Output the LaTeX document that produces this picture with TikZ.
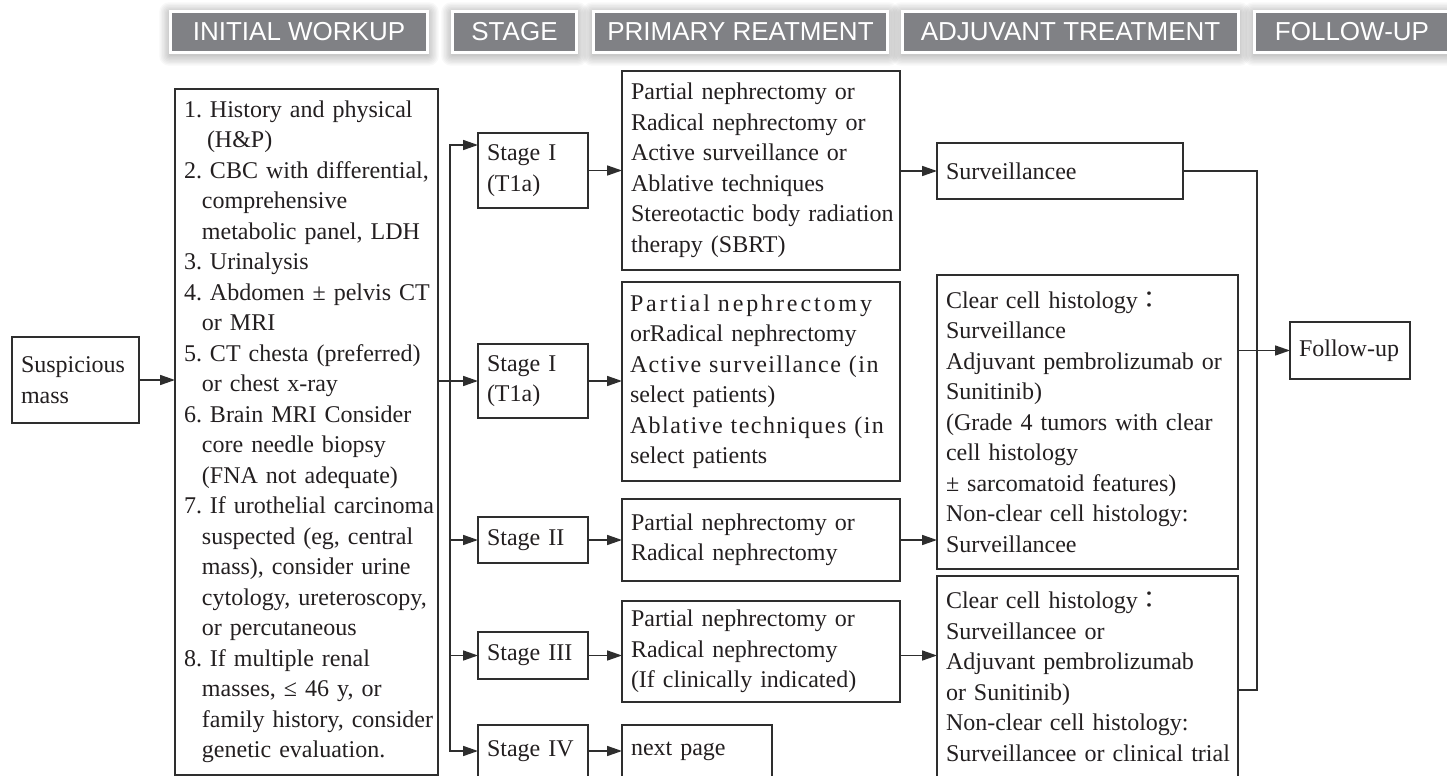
\documentclass[tikz,border=0pt]{standalone}
\usepackage{fontspec}
\setmainfont{Liberation Serif}
\newfontfamily\hdfont{Liberation Sans}
\newfontfamily\cjkfont{Noto Sans CJK TC}
\usetikzlibrary{arrows.meta,calc}
\definecolor{ink}{HTML}{231F20}
\definecolor{edge}{HTML}{2E2E2E}
\definecolor{bandgray}{HTML}{808185}
\pgfdeclarelayer{shade}
\pgfsetlayers{shade,main}
\frenchspacing
% a line spread to a fixed width, with extra letter spacing
\newcommand\spread[3]{\makebox[#1][s]{\addfontfeature{LetterSpace=#2}#3}}
\newcommand\fwcolon{{\cjkfont ：}}
\newcommand\cont[1]{\mbox{\hspace*{9pt}#1}}
\begin{document}
\begin{tikzpicture}[x=0.5pt,y=-0.5pt,
  every node/.style={inner sep=0pt, outer sep=0pt},
  box/.style={draw=edge, line width=1pt, fill=white, text=ink, anchor=north west,
    align=left, inner xsep=4.5pt, inner ysep=0pt, font=\fontsize{12}{15.25}\selectfont},
  band/.style={draw=white, line width=1.5pt, fill=bandgray, text=white, anchor=north west,
    font=\hdfont\fontsize{13}{15}\selectfont},
  link/.style={draw=edge, line width=0.8pt, line cap=rect},
  arr/.style={link, -{Triangle[length=7.5pt,width=5pt]}},
]
\useasboundingbox (0,0) rectangle (1447,776);

% column headings
\node[band, minimum width=128.5pt, minimum height=20.5pt] (h1) at (170.5,11.5) {INITIAL WORKUP};
\node[band, minimum width=62pt,    minimum height=20.5pt] (h2) at (452.5,11.5) {STAGE};
\node[band, minimum width=147pt,   minimum height=20.5pt] (h3) at (593.5,11.5) {PRIMARY REATMENT};
\node[band, minimum width=168pt,   minimum height=20.5pt] (h4) at (902.5,11.5) {ADJUVANT TREATMENT};
\node[band, minimum width=97.5pt,  minimum height=20.5pt] (h5) at (1254.5,11.5) {FOLLOW-UP};

\begin{pgfonlayer}{shade}
  \fill[white] (0,0) rectangle (1447,776);
  \foreach \n in {h1,h2,h3,h4,h5}{
    \foreach \k in {1,...,8}{
      \fill[black, opacity=0.028, rounded corners=\k*0.6pt]
        ($(\n.north west)+(-\k*1.4,-\k*1.4+2)$) rectangle ($(\n.south east)+(\k*1.4,\k*1.4+2)$);
    }
  }
\end{pgfonlayer}

% initial workup
\node[box, minimum width=63.5pt, minimum height=43pt, text width=54.5pt] (mass) at (12,337)
  {Suspicious\\mass};
\node[box, minimum width=131.5pt, minimum height=343pt, text width=122.5pt] (workup) at (175,89)
  {\mbox{1. History and physical}\\
   \mbox{\hspace*{11.5pt}(H\&P)}\\
   \mbox{2. CBC with differential,}\\
   \cont{comprehensive}\\
   \cont{metabolic panel, LDH}\\
   \mbox{3. Urinalysis}\\
   \mbox{4. Abdomen ± pelvis CT}\\
   \cont{or MRI}\\
   \mbox{5. CT chesta (preferred)}\\
   \cont{or chest x-ray}\\
   \mbox{6. Brain MRI Consider}\\
   \cont{core needle biopsy}\\
   \cont{(FNA not adequate)}\\
   \mbox{7. If urothelial carcinoma}\\
   \cont{suspected (eg, central}\\
   \cont{mass), consider urine}\\
   \cont{cytology, ureteroscopy,}\\
   \cont{or percutaneous}\\
   \mbox{8. If multiple renal}\\
   \cont{masses, ≤ 46 y, or}\\
   \cont{family history, consider}\\
   \cont{genetic evaluation.}};

% stages
\node[box, minimum width=55pt, minimum height=37.5pt, text width=46pt] (s1) at (478,133) {Stage I\\(T1a)};
\node[box, minimum width=55pt, minimum height=37pt,   text width=46pt] (s2) at (478,344) {Stage I\\(T1a)};
\node[box, minimum width=55pt, minimum height=23pt,   text width=46pt] (s3) at (478,517) {Stage II};
\node[box, minimum width=55pt, minimum height=23.5pt, text width=46pt] (s4) at (478,632) {Stage III};
\node[box, minimum width=55pt, minimum height=26pt,   text width=46pt] (s5) at (478,725) {Stage IV};

% primary treatment
\node[box, minimum width=139pt, minimum height=99.5pt, text width=130pt] (p1) at (622,71)
  {\mbox{Partial nephrectomy or}\\
   \mbox{Radical nephrectomy or}\\
   \mbox{Active surveillance or}\\
   \mbox{Ablative techniques}\\
   \makebox[130pt][s]{Stereotactic body radiation}\\
   \mbox{therapy (SBRT)}};
\node[box, minimum width=139pt, minimum height=99.5pt, text width=131pt, inner xsep=4pt] (p2) at (622,282)
  {\spread{131pt}{12}{Partial nephrectomy}\\
   \mbox{orRadical nephrectomy}\\
   \spread{131pt}{6}{Active surveillance (in}\\
   \mbox{select patients)}\\
   \spread{131pt}{6}{Ablative techniques (in}\\
   \mbox{select patients}};
\node[box, minimum width=139pt, minimum height=41pt, text width=130pt] (p3) at (622,499)
  {\mbox{Partial nephrectomy or}\\\mbox{Radical nephrectomy}};
\node[box, minimum width=139pt, minimum height=50.5pt, text width=130pt] (p4) at (622,601)
  {\mbox{Partial nephrectomy or}\\\mbox{Radical nephrectomy}\\\mbox{(If clinically indicated)}};
\node[box, minimum width=75pt, minimum height=26pt, text width=66pt] (p5) at (622,725) {next page};

% adjuvant treatment
\node[box, minimum width=123pt, minimum height=28pt, text width=114pt] (a0) at (937,143) {Surveillancee};
\node[box, minimum width=150.5pt, minimum height=147pt, text width=141.5pt] (a1) at (937,275)
  {\mbox{Clear cell histology\fwcolon}\\
   \mbox{Surveillance}\\
   \mbox{Adjuvant pembrolizumab or}\\
   \mbox{Sunitinib)}\\
   \makebox[141.5pt][s]{(Grade 4 tumors with clear}\\
   \mbox{cell histology}\\
   \mbox{± sarcomatoid features)}\\
   \mbox{Non-clear cell histology:}\\
   \mbox{Surveillancee}};
\node[box, minimum width=150.5pt, minimum height=101pt, text width=141.5pt] (a2) at (937,576)
  {\mbox{Clear cell histology\fwcolon}\\
   \mbox{Surveillancee or}\\
   \mbox{Adjuvant pembrolizumab}\\
   \mbox{or Sunitinib)}\\
   \mbox{Non-clear cell histology:}\\
   \mbox{Surveillancee or clinical trial}};

% follow-up
\node[box, minimum width=60pt, minimum height=28.5pt, text width=51pt] (f) at (1290,322) {Follow-up};

% connectors
\draw[arr] (mass.east) -- (mass.east -| workup.west);

\coordinate (bustop) at ($(s1.north west)+(-28,12)$);
\draw[arr] (bustop |- s5.west) |- (s1.west |- bustop);
\draw[arr] (bustop |- s5.west) -- (s5.west);
\draw[arr] (workup.east |- s2.west) -- (s2.west);
\draw[arr] (bustop |- s3.west) -- (s3.west);
\draw[arr] (bustop |- s4.west) -- (s4.west);

\foreach \a/\b in {s1/p1,s2/p2,s3/p3,s4/p4,s5/p5}
  \draw[arr] (\a.east) -- (\a.east -| \b.west);

\draw[arr] (p1.east |- a0.west) -- (a0.west);
\draw[arr] (p3.east) -- (p3.east -| a1.west);
\draw[arr] ([yshift=-2pt]p4.east) -- ([yshift=-2pt]p4.east -| a2.west);

\coordinate (rbus) at ($(a0.east)+(74,0)$);
\draw[link] (a0.east) -- (rbus) |- ([yshift=-6.5pt]a2.east);
\draw[arr] (a1.east |- f.west) -- (f.west);
\end{tikzpicture}
\end{document}
